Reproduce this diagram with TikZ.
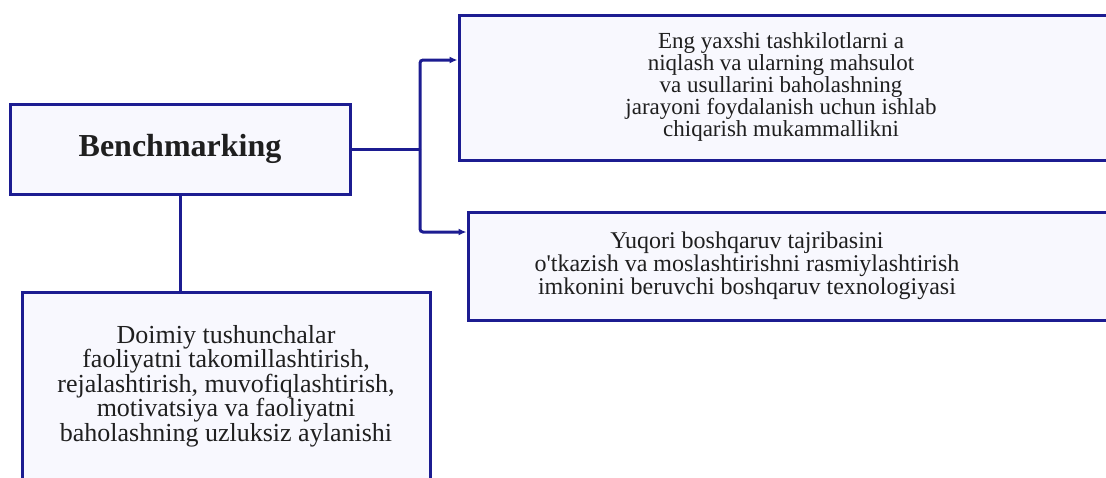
\documentclass[tikz,border=0pt]{standalone}
\usepackage{fontspec}
\setmainfont{Liberation Serif}
\usetikzlibrary{arrows.meta}
\definecolor{boxblue}{RGB}{28,28,145}
\definecolor{boxfill}{RGB}{248,248,254}

\begin{document}
\begin{tikzpicture}[x=1pt,y=-1pt,
  box/.style={draw=boxblue,line width=3pt,fill=boxfill,inner sep=0pt},
  link/.style={draw=boxblue,line width=3pt,rounded corners=3pt},
  arrow/.style={link,-{Latex[length=8pt,width=7pt]}},
  txt/.style={align=center,text=black!88,font=\fontsize{23}{22}\selectfont},
]
\clip (0,0) rectangle (1106,477);
\node[box,minimum width=340pt,minimum height=90pt,font=\bfseries\fontsize{32}{36}\selectfont,text=black!88] (bench) at (180,149) {Benchmarking};
\node[box,minimum width=656pt,minimum height=145pt] (bestbox) at (787,87.5) {};
\node[box,minimum width=647pt,minimum height=108pt] (techbox) at (791.5,266) {};
\node[box,minimum width=408pt,minimum height=203pt] (contbox) at (226,393.5) {};
\node[txt] (besttxt) at (781,87) {Eng yaxshi tashkilotlarni a\\niqlash va ularning mahsulot\\va usullarini baholashning\\jarayoni foydalanish uchun ishlab\\chiqarish mukammallikni};
\node[txt,font=\fontsize{24}{23}\selectfont] (techtxt) at (747,266) {Yuqori boshqaruv tajribasini\\o\textquotesingle tkazish va moslashtirishni rasmiylashtirish\\imkonini beruvchi boshqaruv texnologiyasi};
\node[txt,font=\fontsize{26}{24.5}\selectfont] (conttxt) at (226,386) {Doimiy tushunchalar\\faoliyatni takomillashtirish,\\rejalashtirish, muvofiqlashtirish,\\motivatsiya va faoliyatni\\baholashning uzluksiz aylanishi};
\coordinate (fork) at (420,149);
\coordinate (bestin) at (bestbox.west |- 0,60);
\coordinate (techin) at (techbox.west |- 0,232);
\draw[link] (bench.east) -- (fork);
\draw[arrow] (fork) |- (bestin);
\draw[arrow] (fork) |- (techin);
\draw[link] (bench.south) -- (bench.south |- contbox.north);
\end{tikzpicture}
\end{document}
